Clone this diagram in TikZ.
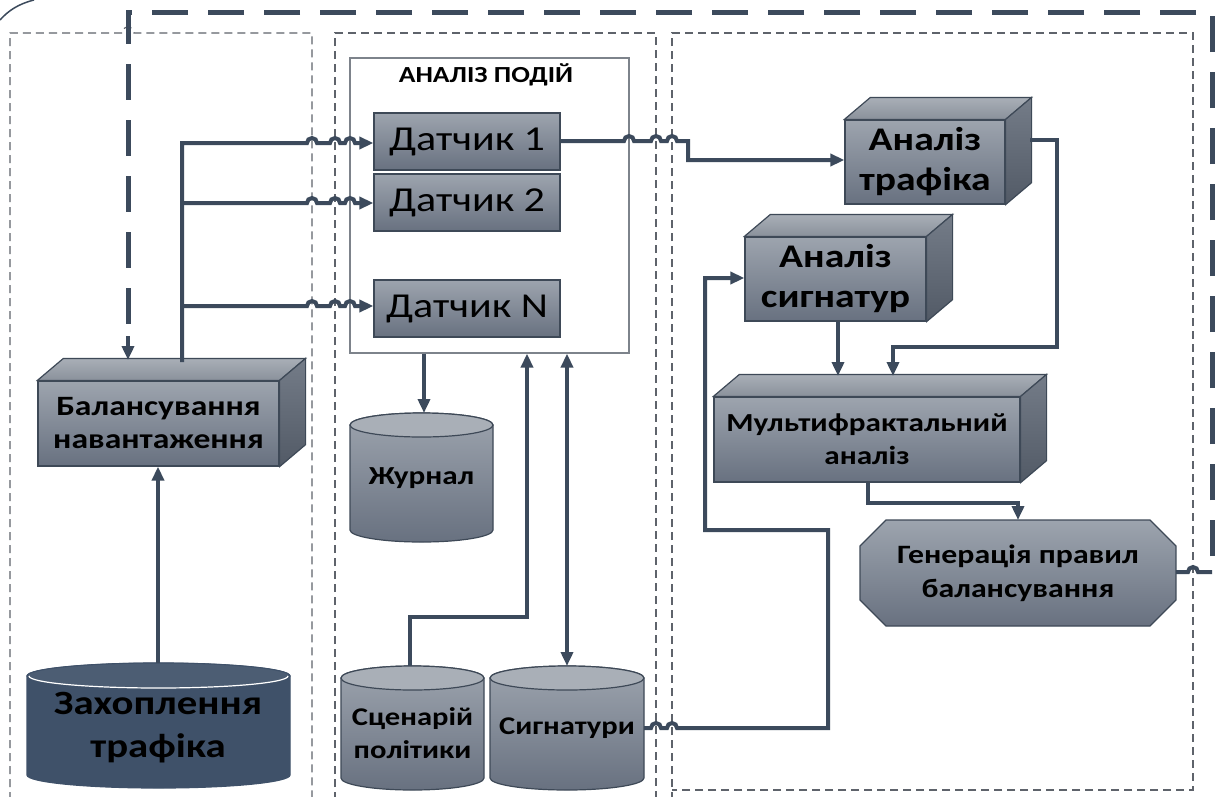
\documentclass[tikz,border=0pt]{standalone}
\usepackage{fontspec}
\setmainfont{Carlito}[FakeStretch=1.2]
\usetikzlibrary{arrows.meta,calc}
\definecolor{linec}{HTML}{3C4A5C}
\definecolor{bordc}{HTML}{3E4957}
\definecolor{ftop}{HTML}{9DA4AE}
\definecolor{fbot}{HTML}{687180}
\definecolor{ttop}{HTML}{A9AFB7}
\definecolor{tbot}{HTML}{8A919B}
\definecolor{rtop}{HTML}{747C88}
\definecolor{rbot}{HTML}{525A66}
\definecolor{capc}{HTML}{3F5169}
\definecolor{capt}{HTML}{4C5D73}
\definecolor{panelc}{HTML}{5E636B}
\definecolor{contc}{HTML}{7D838B}
\tikzset{
  conn/.style={draw=linec, line width=4pt},
  arr/.style={-{Triangle[length=14pt,width=12pt]}},
  darr/.style={{Triangle[length=14pt,width=12pt]}-{Triangle[length=14pt,width=12pt]}},
  panel/.style={draw=panelc, line width=1.2pt, dash pattern=on 8pt off 5pt},
  loopline/.style={draw=linec, line width=5pt, dash pattern=on 36pt off 20pt},
  front/.style={draw=bordc, line width=1.2pt, top color=ftop, bottom color=fbot, inner sep=0pt, align=center, text=black},
  topface/.style={draw=bordc, line width=1.2pt, top color=ttop, bottom color=tbot},
  rightface/.style={draw=bordc, line width=1.2pt, top color=rtop, bottom color=rbot},
  sensor/.style={front, font=\fontsize{35}{38}\selectfont},
  cylbody/.style={draw=bordc, line width=1.2pt, top color=ftop, bottom color=fbot},
  cyltop/.style={draw=bordc, line width=1.2pt, fill=ttop},
  lbl/.style={align=center, text=black, inner sep=0pt}
}
\newcommand\cube[7]{%
  \node[front, minimum width=#4pt, minimum height=#5pt, #6] (#1) at (#2,#3) {#7};
  \draw[topface] (#1.north west) -- ++(26,-22) -- ($(#1.north east)+(26,-22)$) -- (#1.north east) -- cycle;
  \draw[rightface] (#1.north east) -- ++(26,-22) -- ($(#1.south east)+(26,-22)$) -- (#1.south east) -- cycle;
}
% name, x1, x2, ytop, ybot, ry, body style, top style
\newcommand\cyl[8]{%
  \draw[#7] (#2,#4+#6) -- (#2,#5-#6)
     arc[start angle=180,end angle=360,x radius={((#3)-(#2))/2*1pt},y radius=#6pt]
     -- (#3,#4+#6)
     arc[start angle=0,end angle=180,x radius={((#3)-(#2))/2*1pt},y radius=#6pt] -- cycle;
  \draw[#8] ({((#2)+(#3))/2},#4+#6) ellipse[x radius={((#3)-(#2))/2*1pt},y radius=#6pt];
}
\begin{document}
\begin{tikzpicture}[x=1pt,y=-1pt]
\useasboundingbox (0,0) rectangle (1224,796);
\fill[white] (0,0) rectangle (1224,796);

% corner fragment
\draw[linec, line width=1.5pt] (0,20) .. controls (8,11) and (18,4) .. (34,0);

% panels
\draw[panel] (10,800) -- (10,33) -- (122,33) arc[start angle=180,end angle=0,radius=6pt] -- (312,33) -- (312,800);
\draw[panel] (335,800) -- (335,33) -- (656,33) -- (656,800);
\draw[panel] (672,800) -- (672,33) -- (1193,33) -- (1193,790) -- (672,790);

% container
\node[draw=contc, line width=1.2pt, minimum width=279pt, minimum height=295pt, inner sep=0pt] (cont) at (489.5,205.5) {};
\node[lbl, font=\bfseries\fontsize{23}{25}\selectfont] (conttitle) at (486,75) {АНАЛІЗ ПОДІЙ};

% sensors
\node[sensor, minimum width=186pt, minimum height=57pt] (d1) at (467,141.5) {Датчик 1};
\node[sensor, minimum width=186pt, minimum height=57pt] (d2) at (467,202.5) {Датчик 2};
\node[sensor, minimum width=186pt, minimum height=57pt] (dn) at (467,308.5) {Датчик N};

% cubes
\cube{bal}{158.5}{423.5}{241}{85}{font=\bfseries\fontsize{28}{33}\selectfont}{Балансування\\навантаження}
\cube{at}{925}{162}{160}{84}{font=\bfseries\fontsize{33}{40}\selectfont}{Аналіз\\трафіка}
\cube{as}{835.5}{279}{181}{84}{font=\bfseries\fontsize{33}{40}\selectfont}{Аналіз\\сигнатур}
\cube{mf}{867}{439.5}{306}{85}{font=\bfseries\fontsize{26}{33}\selectfont}{Мультифрактальний\\аналіз}

% generation octagon
\draw[front] (886,520) -- (1150,520) -- (1176,546) -- (1176,600) -- (1150,626) -- (886,626) -- (860,600) -- (860,546) -- cycle;
\node[lbl, font=\bfseries\fontsize{26.5}{34}\selectfont] (gen) at (1018,573) {Генерація правил\\балансування};
\coordinate (genE) at (1176,572);
\coordinate (genN) at (1018,520);

% cylinders
\cyl{cap}{27}{290}{663}{788}{13}{draw=capc, line width=1.2pt, fill=capc}{draw=capc, line width=1pt, fill=capt}
\draw[white, line width=1.2pt] (29,676) arc[start angle=180,end angle=360,x radius=129.5pt,y radius=12pt];
\node[lbl, font=\bfseries\fontsize{34}{43}\selectfont] (capn) at (158,728) {Захоплення\\трафіка};
\coordinate (capN) at (158,663);

\cyl{jr}{350}{493}{413}{542}{12}{cylbody}{cyltop}
\node[lbl, font=\bfseries\fontsize{26}{28}\selectfont] (jrn) at (421.5,478) {Журнал};
\coordinate (jrN) at (424,413);

\cyl{sc}{341}{484}{666}{790}{12}{cylbody}{cyltop}
\node[lbl, font=\bfseries\fontsize{25.5}{33}\selectfont] (scn) at (412.5,733) {Сценарій\\політики};
\coordinate (scN) at (410,666);

\cyl{sg}{490}{644}{666}{790}{12}{cylbody}{cyltop}
\node[lbl, font=\bfseries\fontsize{25.5}{28}\selectfont] (sgn) at (567,728) {Сигнатури};
\coordinate (sgN) at (567,666);
\coordinate (sgE) at (644,728);

% connectors: balance -> sensors
\draw[conn, arr] (182,362) -- (182,143) -- (307,143) arc[start angle=180,end angle=0,radius=5pt] -- (330,143) arc[start angle=180,end angle=0,radius=5pt] -- (345,143) arc[start angle=180,end angle=0,radius=5pt] -- (d1.west |- 0,143);
\draw[conn, arr] (182,203) -- (307,203) arc[start angle=180,end angle=0,radius=5pt] -- (330,203) arc[start angle=180,end angle=0,radius=5pt] -- (345,203) arc[start angle=180,end angle=0,radius=5pt] -- (d2.west |- 0,203);
\draw[conn, arr] (182,306) -- (307,306) arc[start angle=180,end angle=0,radius=5pt] -- (330,306) arc[start angle=180,end angle=0,radius=5pt] -- (345,306) arc[start angle=180,end angle=0,radius=5pt] -- (dn.west |- 0,306);

% capture -> balance
\draw[conn, arr] (capN) -- (bal.south -| capN);

% sensor 1 -> traffic analysis
\draw[conn, arr] (d1.east |- 0,141) -- (624,141) arc[start angle=180,end angle=0,radius=5pt] -- (651,141) arc[start angle=180,end angle=0,radius=5pt] -- (667,141) arc[start angle=180,end angle=0,radius=5pt] -- (688,141) -- (688,160) -- (at.west |- 0,160);

% traffic -> multifractal
\draw[conn, arr] (1030,140) -- (1057,140) -- (1057,347) -- (893,347) -- (893,376);
% signature analysis -> multifractal
\draw[conn, arr] (as.south -| 838,0) -- (838,376);
% multifractal -> generation
\draw[conn, arr] (mf.south -| 868,0) -- (868,503) -- (1018,503) -- (genN);
% signatures -> signature analysis
\draw[conn, arr] (sgE) -- (651,728) arc[start angle=180,end angle=0,radius=5pt] -- (667,728) arc[start angle=180,end angle=0,radius=5pt] -- (828,728) -- (828,530) -- (705,530) -- (705,278) -- (as.west |- 0,278);

% container -> journal, scenario -> container, signatures <-> container
\draw[conn, arr] (cont.south -| jrN) -- (jrN);
\draw[conn, arr] (scN) -- (410,617) -- (527,617) -- (cont.south -| 527,0);
\draw[conn, darr] (sgN) -- (cont.south -| sgN);

% feedback loop
\draw[conn] (genE) -- (1188,572) arc[start angle=180,end angle=0,radius=5pt] -- (1212,572) coordinate (loopS);
\draw[loopline] (1212,556) -- (1212,12) -- (128,12) -- (128,340);
\draw[conn, arr] (128,336) -- (128,360);
\end{tikzpicture}
\end{document}
